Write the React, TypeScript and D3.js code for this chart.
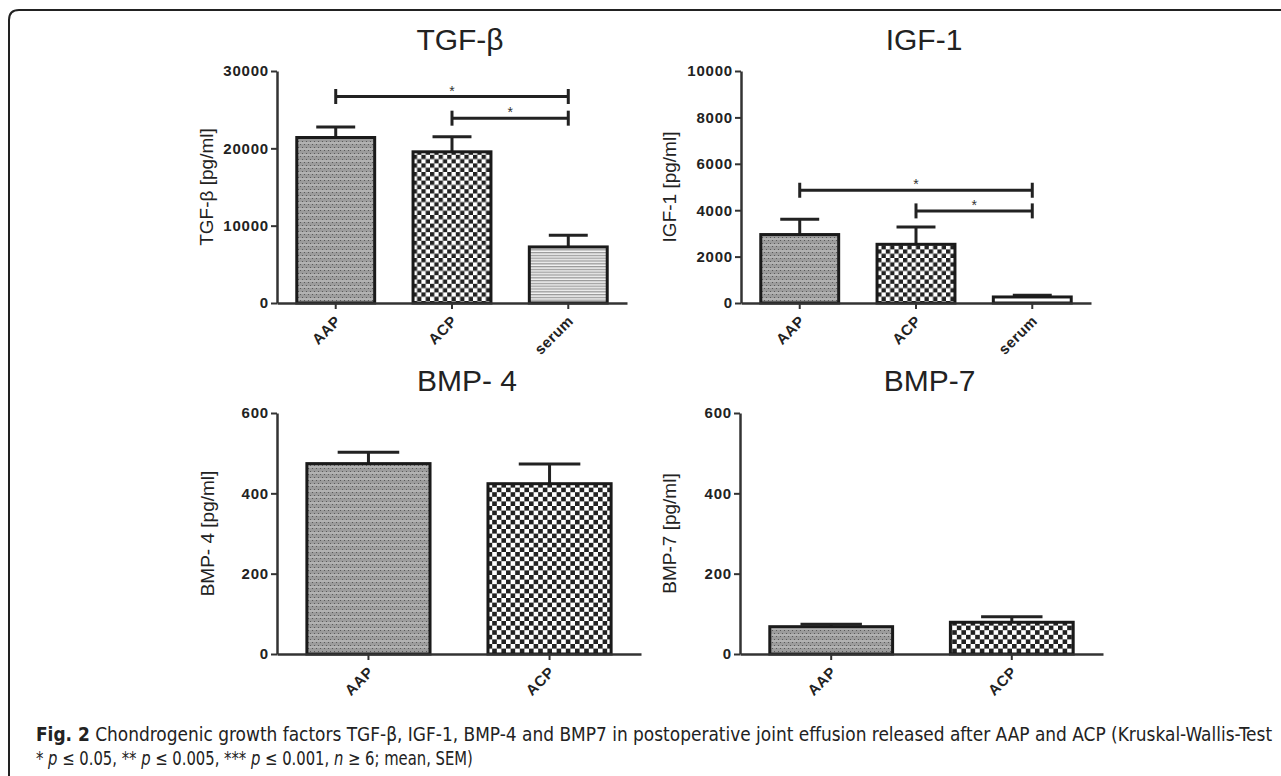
import React, { useRef, useEffect } from "react";
import * as d3 from "d3";

// values
const topGroups = ["AAP", "ACP", "serum"];
const bottomGroups = ["AAP", "ACP"];

const tgfMean = [21400, 19550, 7250];
const tgfSem = [1350, 1950, 1500];
const tgfTicks = [0, 10000, 20000, 30000];
const tgfSig = [
  { from: 0, to: 2, level: 26700 },
  { from: 1, to: 2, level: 23900 },
];

const igfMean = [2950, 2530, 260];
const igfSem = [660, 750, 70];
const igfTicks = [0, 2000, 4000, 6000, 8000, 10000];
const igfSig = [
  { from: 0, to: 2, level: 4860 },
  { from: 1, to: 2, level: 3970 },
];

const bmp4Mean = [474, 424];
const bmp4Sem = [28, 49];
const bmp7Mean = [68, 79];
const bmp7Sem = [6, 14];
const bmpTicks = [0, 200, 400, 600];

const topFills = ["url(#pat-aap)", "url(#pat-acp)", "url(#pat-serum)"];
const igfFills = ["url(#pat-aap)", "url(#pat-acp)", "#ffffff"];
const bottomFills = ["url(#pat-aap)", "url(#pat-acp2)"];

const FONT = "'Liberation Sans', Arimo, Arial, Helvetica, sans-serif";
const NARROW = "'DejaVu Sans Condensed', 'Liberation Sans Narrow', sans-serif";

type Sig = { from: number; to: number; level: number };
type Panel = {
  title: string;
  yLabel: string;
  groups: string[];
  mean: number[];
  sem: number[];
  ticks: number[];
  fills: string[];
  sig: Sig[];
  x0: number;
  x1: number;
  yTop: number;
  yBottom: number;
  pInner: number;
  pOuter: number;
  titleY: number;
  labelX: number;
};

const panels: Panel[] = [
  { title: "TGF-β", yLabel: "TGF-β [pg/ml]", groups: topGroups, mean: tgfMean, sem: tgfSem, ticks: tgfTicks, fills: topFills, sig: tgfSig,
    x0: 277, x1: 627, yTop: 71, yBottom: 303, pInner: 0.33, pOuter: 0.17, titleY: 50, labelX: 213 },
  { title: "IGF-1", yLabel: "IGF-1 [pg/ml]", groups: topGroups, mean: igfMean, sem: igfSem, ticks: igfTicks, fills: igfFills, sig: igfSig,
    x0: 741, x1: 1091, yTop: 71, yBottom: 303, pInner: 0.33, pOuter: 0.17, titleY: 50, labelX: 676 },
  { title: "BMP- 4", yLabel: "BMP- 4 [pg/ml]", groups: bottomGroups, mean: bmp4Mean, sem: bmp4Sem, ticks: bmpTicks, fills: bottomFills, sig: [],
    x0: 277, x1: 641, yTop: 413, yBottom: 654, pInner: 0.32, pOuter: 0.165, titleY: 391, labelX: 214 },
  { title: "BMP-7", yLabel: "BMP-7 [pg/ml]", groups: bottomGroups, mean: bmp7Mean, sem: bmp7Sem, ticks: bmpTicks, fills: bottomFills, sig: [],
    x0: 740, x1: 1103, yTop: 413, yBottom: 654, pInner: 0.32, pOuter: 0.165, titleY: 391, labelX: 676 },
];

export default function App() {
  const svgRef = useRef<SVGSVGElement>(null);

  useEffect(() => {
    const svg = d3.select(svgRef.current);
    svg.selectAll("*").remove();

    const defs = svg.append("defs");
    const aap = defs.append("pattern").attr("id", "pat-aap").attr("patternUnits", "userSpaceOnUse").attr("width", 4).attr("height", 6);
    aap.append("rect").attr("width", 4).attr("height", 6).attr("fill", "#9c9c9c");
    aap.append("rect").attr("x", 0).attr("y", 0).attr("width", 1).attr("height", 1).attr("fill", "#5a5a5a");
    aap.append("rect").attr("x", 2).attr("y", 3).attr("width", 1).attr("height", 1).attr("fill", "#5a5a5a");
    aap.append("rect").attr("x", 0).attr("y", 4.5).attr("width", 4).attr("height", 1).attr("fill", "#c8c8c8");

    const checker = (id: string, c: number) => {
      const p = defs.append("pattern").attr("id", id).attr("patternUnits", "userSpaceOnUse").attr("width", c * 2).attr("height", c * 2);
      p.append("rect").attr("width", c * 2).attr("height", c * 2).attr("fill", "#ffffff");
      p.append("rect").attr("width", c).attr("height", c).attr("fill", "#222");
      p.append("rect").attr("x", c).attr("y", c).attr("width", c).attr("height", c).attr("fill", "#222");
    };
    checker("pat-acp", 4.3);
    checker("pat-acp2", 4.6);

    const serum = defs.append("pattern").attr("id", "pat-serum").attr("patternUnits", "userSpaceOnUse").attr("width", 4).attr("height", 2.8);
    serum.append("rect").attr("width", 4).attr("height", 2.8).attr("fill", "#f2f2f2");
    serum.append("rect").attr("y", 0).attr("width", 4).attr("height", 1.3).attr("fill", "#9a9a9a");

    // frame
    svg.append("path")
      .attr("d", "M9,776 L9,20 Q9,10 19,10 L1281,10")
      .attr("fill", "none").attr("stroke", "#222").attr("stroke-width", 2);

    panels.forEach((p) => {
      const g = svg.append("g");
      const x = d3.scaleBand<string>().domain(p.groups).range([p.x0, p.x1]).paddingInner(p.pInner).paddingOuter(p.pOuter);
      const y = d3.scaleLinear().domain([0, p.ticks[p.ticks.length - 1]]).range([p.yBottom, p.yTop]);

      g.append("text")
        .attr("x", (p.x0 + p.x1) / 2 + 8).attr("y", p.titleY)
        .attr("text-anchor", "middle")
        .style("font-family", FONT)
        .attr("font-size", 30).attr("fill", "#222")
        .text(p.title);

      g.append("text")
        .attr("transform", `translate(${p.labelX},${(p.yTop + p.yBottom) / 2}) rotate(-90)`)
        .attr("text-anchor", "middle")
        .style("font-family", FONT)
        .attr("font-size", 19).attr("fill", "#222")
        .text(p.yLabel);

      // bars
      p.groups.forEach((grp, i) => {
        const bx = x(grp)!;
        const bw = x.bandwidth();
        const cx = bx + bw / 2;
        const top = y(p.mean[i]);
        const cap = y(p.mean[i] + p.sem[i]);
        g.append("line").attr("x1", cx).attr("x2", cx).attr("y1", top).attr("y2", cap)
          .attr("stroke", "#222").attr("stroke-width", 3);
        g.append("line").attr("x1", cx - bw / 4).attr("x2", cx + bw / 4).attr("y1", cap).attr("y2", cap)
          .attr("stroke", "#222").attr("stroke-width", 3);
        g.append("rect")
          .attr("x", bx).attr("y", top).attr("width", bw).attr("height", y(0) - top)
          .attr("fill", p.fills[i]).attr("stroke", "#1a1a1a").attr("stroke-width", 3);
      });

      // y axis
      const yAxis = d3.axisLeft(y).tickValues(p.ticks).tickSize(6).tickSizeOuter(0).tickPadding(2).tickFormat(d3.format("d"));
      const ya = g.append("g").attr("transform", `translate(${p.x0},0)`).call(yAxis);
      ya.select(".domain").attr("stroke", "#333").attr("stroke-width", 2.5);
      ya.selectAll(".tick line").attr("stroke", "#333").attr("stroke-width", 2);
      ya.selectAll(".tick text")
        .style("font-family", FONT)
        .attr("font-size", 15).attr("font-weight", "bold").attr("fill", "#222")
        .attr("letter-spacing", 0.8);

      // x axis
      const xAxis = d3.axisBottom(x).tickSize(6).tickSizeOuter(0).tickFormat(() => "");
      const xa = g.append("g").attr("transform", `translate(0,${p.yBottom})`).call(xAxis);
      xa.select(".domain").attr("stroke", "#333").attr("stroke-width", 2.5);
      xa.selectAll(".tick line").attr("stroke", "#333").attr("stroke-width", 2);
      p.groups.forEach((grp) => {
        const cx = x(grp)! + x.bandwidth() / 2;
        g.append("text")
          .attr("transform", `translate(${cx + 6},${p.yBottom + 19}) rotate(-45)`)
          .attr("text-anchor", "end")
          .style("font-family", FONT)
          .attr("font-size", 15).attr("font-weight", "bold").attr("fill", "#222")
          .attr("letter-spacing", 0.5)
          .text(grp);
      });

      // significance brackets
      p.sig.forEach((s) => {
        const xa1 = x(p.groups[s.from])! + x.bandwidth() / 2;
        const xa2 = x(p.groups[s.to])! + x.bandwidth() / 2;
        const yy = y(s.level);
        g.append("line").attr("x1", xa1).attr("x2", xa2).attr("y1", yy).attr("y2", yy).attr("stroke", "#222").attr("stroke-width", 3);
        [xa1, xa2].forEach((xx) =>
          g.append("line").attr("x1", xx).attr("x2", xx).attr("y1", yy - 7.5).attr("y2", yy + 7.5).attr("stroke", "#222").attr("stroke-width", 3)
        );
        g.append("text")
          .attr("x", (xa1 + xa2) / 2).attr("y", yy - 1)
          .attr("text-anchor", "middle")
          .style("font-family", FONT)
          .attr("font-size", 14).attr("fill", "#333")
          .text("*");
      });
    });

    // caption: squeeze each line horizontally to the width seen in the figure
    const fitLine = (t: d3.Selection<SVGTextElement, unknown, null, undefined>, x0: number, y0: number, w: number) => {
      const natural = (t.node() as SVGTextElement).getComputedTextLength() || w;
      t.attr("transform", `translate(${x0},${y0}) scale(${w / natural},1)`);
    };

    const l1 = svg.append("text")
      .attr("x", 0).attr("y", 0)
      .style("font-family", NARROW)
      .attr("font-size", 19).attr("fill", "#222");
    l1.append("tspan").attr("font-weight", "bold").text("Fig. 2");
    l1.append("tspan").text(" Chondrogenic growth factors TGF-β, IGF-1, BMP-4 and BMP7 in postoperative joint effusion released after AAP and ACP (Kruskal-Wallis-Test");
    fitLine(l1 as any, 36, 741, 1237);

    const l2 = svg.append("text")
      .attr("x", 0).attr("y", 0)
      .style("font-family", NARROW)
      .attr("font-size", 19).attr("fill", "#222");
    l2.append("tspan").text("* ");
    l2.append("tspan").attr("font-style", "italic").text("p");
    l2.append("tspan").text(" ≤ 0.05, ** ");
    l2.append("tspan").attr("font-style", "italic").text("p");
    l2.append("tspan").text(" ≤ 0.005, *** ");
    l2.append("tspan").attr("font-style", "italic").text("p");
    l2.append("tspan").text(" ≤ 0.001, ");
    l2.append("tspan").attr("font-style", "italic").text("n");
    l2.append("tspan").text(" ≥ 6; mean, SEM)");
    fitLine(l2 as any, 36, 765, 437);
  }, []);

  return (
    <svg
      ref={svgRef}
      width={1281}
      height={776}
      style={{ position: "absolute", left: 0, top: 0, background: "#fff" }}
    />
  );
}
